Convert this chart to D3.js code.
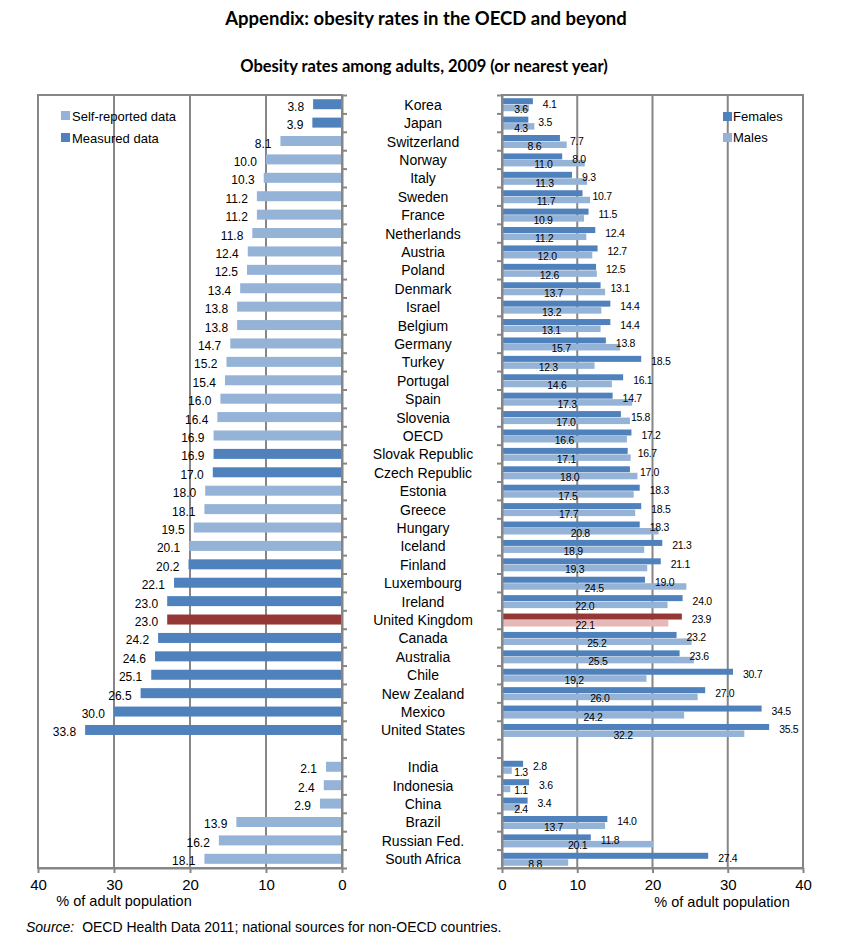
<!DOCTYPE html>
<html>
<head>
<meta charset="utf-8">
<script src="https://cdn.jsdelivr.net/npm/d3@7"></script>
<style>
  body { margin: 0; background: #fff; }
  svg text { font-family: "Liberation Sans", Arial, sans-serif; }
</style>
</head>
<body>
<svg id="chart"></svg>
<script>
// Chart size
const width = 843;
const height = 952;

const DARK_BLUE = "#4F81BD";
const LIGHT_BLUE = "#95B3D7";
const UK_DARK = "#953735";
const UK_LIGHT = "#E6B9B8";
const GRID = "#868686";

// OECD countries, then a blank slot, then the non-OECD group
const oecdCountries = ["Korea", "Japan", "Switzerland", "Norway", "Italy", "Sweden", "France",
  "Netherlands", "Austria", "Poland", "Denmark", "Israel", "Belgium", "Germany", "Turkey",
  "Portugal", "Spain", "Slovenia", "OECD", "Slovak Republic", "Czech Republic", "Estonia",
  "Greece", "Hungary", "Iceland", "Finland", "Luxembourg", "Ireland", "United Kingdom",
  "Canada", "Australia", "Chile", "New Zealand", "Mexico", "United States"];
const otherCountries = ["India", "Indonesia", "China", "Brazil", "Russian Fed.", "South Africa"];

// Total adult obesity rate (left panel)
const totalRates = [3.8, 3.9, 8.1, 10.0, 10.3, 11.2, 11.2, 11.8, 12.4, 12.5, 13.4, 13.8, 13.8,
  14.7, 15.2, 15.4, 16.0, 16.4, 16.9, 16.9, 17.0, 18.0, 18.1, 19.5, 20.1, 20.2, 22.1, 23.0,
  23.0, 24.2, 24.6, 25.1, 26.5, 30.0, 33.8,
  2.1, 2.4, 2.9, 13.9, 16.2, 18.1];
// "M" = measured, "S" = self-reported
const dataType = ["M", "M", "S", "S", "S", "S", "S", "S", "S", "S", "S", "S", "S", "S", "S",
  "S", "S", "S", "S", "M", "M", "S", "S", "S", "S", "M", "M", "M", "M", "M", "M", "M", "M",
  "M", "M",
  "S", "S", "S", "S", "S", "S"];

// Right panel
const femaleRates = [4.1, 3.5, 7.7, 8.0, 9.3, 10.7, 11.5, 12.4, 12.7, 12.5, 13.1, 14.4, 14.4,
  13.8, 18.5, 16.1, 14.7, 15.8, 17.2, 16.7, 17.0, 18.3, 18.5, 18.3, 21.3, 21.1, 19.0, 24.0,
  23.9, 23.2, 23.6, 30.7, 27.0, 34.5, 35.5,
  2.8, 3.6, 3.4, 14.0, 11.8, 27.4];
const maleRates = [3.6, 4.3, 8.6, 11.0, 11.3, 11.7, 10.9, 11.2, 12.0, 12.6, 13.7, 13.2, 13.1,
  15.7, 12.3, 14.6, 17.3, 17.0, 16.6, 17.1, 18.0, 17.5, 17.7, 20.8, 18.9, 19.3, 24.5, 22.0,
  22.1, 25.2, 25.5, 19.2, 26.0, 24.2, 32.2,
  1.3, 1.1, 2.4, 13.7, 20.1, 8.8];

const xTicks = [0, 10, 20, 30, 40];
const gridTicks = [10, 20, 30];

const countries = oecdCountries.concat(otherCountries);
const rows = oecdCountries.concat([" "], otherCountries);
const records = countries.map((c, i) => ({
  country: c,
  total: totalRates[i],
  type: dataType[i],
  female: femaleRates[i],
  male: maleRates[i]
}));

const svg = d3.select("#chart")
  .attr("width", width)
  .attr("height", height);

const plotTop = 95, plotBottom = 868;
const y = d3.scaleBand().domain(rows).range([plotTop, plotBottom]).padding(0);
const slot = d3.scaleLinear().domain([0, rows.length]).range([plotTop, plotBottom]);
const xLeft = d3.scaleLinear().domain([0, 40]).range([342, 38]);
const xRight = d3.scaleLinear().domain([0, 40]).range([502, 803]);
const bw = y.bandwidth();

// Titles
svg.append("text")
  .attr("x", 426).attr("y", 25)
  .attr("text-anchor", "middle")
  .style("font-family", "Lato, 'Open Sans', sans-serif")
  .style("font-weight", "bold").style("font-size", "18.5px")
  .text("Appendix: obesity rates in the OECD and beyond");
svg.append("text")
  .attr("x", 424).attr("y", 72)
  .attr("text-anchor", "middle")
  .style("font-family", "Lato, 'Open Sans', sans-serif")
  .style("font-weight", "bold").style("font-size", "16.5px")
  .text("Obesity rates among adults, 2009 (or nearest year)");

// Gridlines
function grid(x) {
  svg.append("g").selectAll("line")
    .data(gridTicks)
    .enter().append("line")
    .attr("x1", d => x(d)).attr("x2", d => x(d))
    .attr("y1", plotTop).attr("y2", plotBottom)
    .attr("stroke", GRID).attr("stroke-width", 2);
}
grid(xLeft);
grid(xRight);

// Left panel bars
svg.append("g").selectAll("rect")
  .data(records)
  .enter().append("rect")
  .attr("x", d => xLeft(d.total))
  .attr("y", d => y(d.country) + bw / 2 - 5)
  .attr("width", d => xLeft(0) - xLeft(d.total))
  .attr("height", 10)
  .attr("fill", d => d.country === "United Kingdom" ? UK_DARK : (d.type === "M" ? DARK_BLUE : LIGHT_BLUE));

svg.append("g").selectAll("text")
  .data(records)
  .enter().append("text")
  .attr("x", d => xLeft(d.total) - 9)
  .attr("y", d => y(d.country) + bw / 2 + 6.5)
  .attr("text-anchor", "end")
  .style("font-size", "12px")
  .text(d => d3.format(".1f")(d.total));

// Right panel bars
svg.append("g").selectAll("rect")
  .data(records)
  .enter().append("rect")
  .attr("x", xRight(0))
  .attr("y", d => y(d.country) + bw / 2 - 6)
  .attr("width", d => xRight(d.female) - xRight(0))
  .attr("height", 6)
  .attr("fill", d => d.country === "United Kingdom" ? UK_DARK : DARK_BLUE);

svg.append("g").selectAll("rect")
  .data(records)
  .enter().append("rect")
  .attr("x", xRight(0))
  .attr("y", d => y(d.country) + bw / 2 + 0.5)
  .attr("width", d => xRight(d.male) - xRight(0))
  .attr("height", 6.5)
  .attr("fill", d => d.country === "United Kingdom" ? UK_LIGHT : LIGHT_BLUE);

svg.append("g").selectAll("text")
  .data(records)
  .enter().append("text")
  .attr("x", d => xRight(d.female) + 10)
  .attr("y", d => y(d.country) + bw / 2 + 3.5)
  .style("font-size", "10.5px")
  .style("letter-spacing", "-0.3px")
  .text(d => d3.format(".1f")(d.female));

svg.append("g").selectAll("text")
  .data(records)
  .enter().append("text")
  .attr("x", d => Math.max(xRight(d.male / 2), 521))
  .attr("y", d => y(d.country) + bw / 2 + 9)
  .attr("text-anchor", "middle")
  .style("font-size", "10.5px")
  .style("letter-spacing", "-0.3px")
  .text(d => d3.format(".1f")(d.male));

// Frames
svg.append("rect")
  .attr("x", xLeft(40)).attr("y", plotTop)
  .attr("width", xLeft(0) - xLeft(40)).attr("height", plotBottom - plotTop)
  .attr("fill", "none").attr("stroke", GRID).attr("stroke-width", 2);
svg.append("rect")
  .attr("x", xRight(0)).attr("y", plotTop)
  .attr("width", xRight(40) - xRight(0)).attr("height", plotBottom - plotTop)
  .attr("fill", "none").attr("stroke", GRID).attr("stroke-width", 2);

// Axes
function styleAxis(g) {
  g.select(".domain").attr("stroke", GRID).attr("stroke-width", 2);
  g.selectAll(".tick line").attr("stroke", GRID).attr("stroke-width", 2);
  g.selectAll(".tick text")
    .style("font-family", "'Liberation Sans', Arial, sans-serif")
    .style("font-size", "15px").attr("fill", "#000");
}

svg.append("g")
  .attr("transform", `translate(0,${plotBottom})`)
  .call(d3.axisBottom(xLeft).tickValues(xTicks).tickSize(5).tickSizeOuter(0).tickPadding(6))
  .call(styleAxis);
svg.append("g")
  .attr("transform", `translate(0,${plotBottom})`)
  .call(d3.axisBottom(xRight).tickValues(xTicks).tickSize(5).tickSizeOuter(0).tickPadding(6))
  .call(styleAxis);

svg.append("g")
  .attr("transform", `translate(${xLeft(0)},0)`)
  .call(d3.axisRight(slot).tickValues(d3.range(rows.length + 1)).tickFormat("").tickSize(5).tickSizeOuter(0))
  .call(styleAxis);
svg.append("g")
  .attr("transform", `translate(${xRight(0)},0)`)
  .call(d3.axisLeft(slot).tickValues(d3.range(rows.length + 1)).tickFormat("").tickSize(5).tickSizeOuter(0))
  .call(styleAxis);

// Country labels
svg.append("g").selectAll("text")
  .data(countries)
  .enter().append("text")
  .attr("x", 423)
  .attr("y", d => y(d) + bw / 2 + 5.5)
  .attr("text-anchor", "middle")
  .style("font-size", "14px")
  .text(d => d);

// Axis titles
svg.append("text").attr("x", 124).attr("y", 906)
  .attr("text-anchor", "middle").style("font-size", "14.5px")
  .text("% of adult population");
svg.append("text").attr("x", 722).attr("y", 907)
  .attr("text-anchor", "middle").style("font-size", "14.5px")
  .text("% of adult population");

// Legends
const leftLegend = [["Self-reported data", LIGHT_BLUE], ["Measured data", DARK_BLUE]];
const lg = svg.append("g").selectAll("g")
  .data(leftLegend)
  .enter().append("g")
  .attr("transform", (d, i) => `translate(61,${111 + i * 22})`);
lg.append("rect").attr("width", 9).attr("height", 9).attr("fill", d => d[1]);
lg.append("text").attr("x", 11).attr("y", 9.5).style("font-size", "13px").text(d => d[0]);

const rightLegend = [["Females", DARK_BLUE], ["Males", LIGHT_BLUE]];
const rg = svg.append("g").selectAll("g")
  .data(rightLegend)
  .enter().append("g")
  .attr("transform", (d, i) => `translate(723,${112 + i * 21})`);
rg.append("rect").attr("width", 9).attr("height", 9).attr("fill", d => d[1]);
rg.append("text").attr("x", 10).attr("y", 9).style("font-size", "13px").text(d => d[0]);

// Source note
const src = svg.append("text").attr("x", 26).attr("y", 932).style("font-size", "14px");
src.append("tspan").style("font-style", "italic").text("Source:");
src.append("tspan").attr("dx", 4).text(" OECD Health Data 2011; national sources for non-OECD countries.");
</script>
</body>
</html>
